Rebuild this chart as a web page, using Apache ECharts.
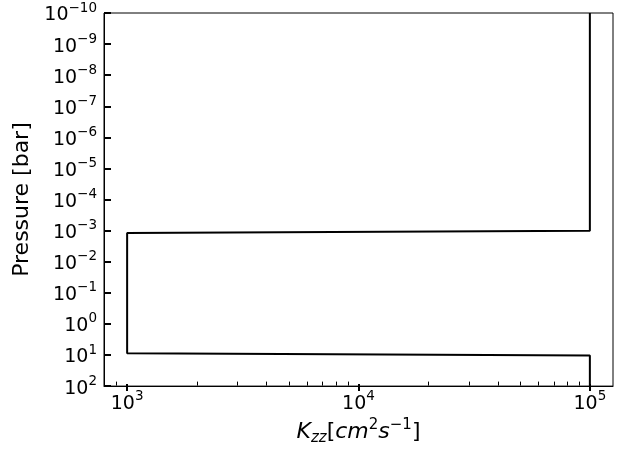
<!DOCTYPE html>
<html>
<head>
<meta charset="utf-8">
<script src="https://cdn.jsdelivr.net/npm/echarts@6/dist/echarts.min.js"></script>
<style>
  html, body { margin: 0; padding: 0; background: #fff; }
  #chart { width: 628px; height: 451px; }
</style>
</head>
<body>
<div id="chart"></div>
<script>
// Kzz profile (cm^2 s^-1) against pressure (bar)
var kzz = [1e5, 1e5, 1e3, 1e3, 1e5, 1e5];
var pressure = [1e-10, 1e-3, 1.18e-3, 8.7, 10.4, 1e2];

// tick positions (decades) and minor ticks
var xMajorExp = [3, 4, 5];
var xMinor = [800, 900, 2000, 3000, 4000, 5000, 6000, 7000, 8000, 9000,
  20000, 30000, 40000, 50000, 60000, 70000, 80000, 90000];
var yExpMin = -10, yExpMax = 2;

var font = 'DejaVu Sans';
var gridLeft = 104, gridRight = 15, gridTop = 13, gridBottom = 60;
var plotW = 628 - gridLeft - gridRight;

function powLabel(v) {
  var e = Math.round(v);
  var s = e < 0 ? '\u2212' + (-e) : '' + e;
  return '{b|10}{e|' + s + '}';
}
var powRich = {
  b: { fontFamily: font, fontSize: 19, color: '#000', lineHeight: 24, verticalAlign: 'bottom' },
  e: { fontFamily: font, fontSize: 13.5, color: '#000', lineHeight: 14, verticalAlign: 'top' }
};

var chart = echarts.init(document.getElementById('chart'));

var xMin = Math.log10(kzz[2]) - 0.1;
var xMax = Math.log10(kzz[0]) + 0.1;
var majLo = xMajorExp[0], majHi = xMajorExp[xMajorExp.length - 1];

// second (empty) grid spanning exactly 10^3..10^5, only used to carry the major ticks
var pxPerDec = plotW / (xMax - xMin);
var grid2Left = gridLeft + (majLo - xMin) * pxPerDec;
var grid2Right = gridRight + (xMax - majHi) * pxPerDec;

var option = {
  backgroundColor: '#fff',
  animation: false,
  grid: [{
    left: gridLeft, right: gridRight, top: gridTop, bottom: gridBottom,
    show: true, borderColor: '#000', borderWidth: 1, backgroundColor: 'transparent'
  }, {
    left: grid2Left, right: grid2Right, top: gridTop, bottom: gridBottom, show: false
  }],
  xAxis: [{
    type: 'value',
    gridIndex: 0,
    position: 'bottom',
    min: xMin,
    max: xMax,
    name: '{i|K}{s|zz}{r|[}{i|cm}{p|2}{i|s}{p|\u22121}{r|]}',
    nameLocation: 'middle',
    nameGap: 26,
    nameTextStyle: {
      rich: {
        i: { fontFamily: font, fontStyle: 'italic', fontSize: 22, color: '#000', lineHeight: 28 },
        r: { fontFamily: font, fontSize: 22, color: '#000', lineHeight: 28 },
        s: { fontFamily: font, fontStyle: 'italic', fontSize: 15, color: '#000', lineHeight: 15, verticalAlign: 'bottom' },
        p: { fontFamily: font, fontSize: 15, color: '#000', lineHeight: 15, verticalAlign: 'top' }
      }
    },
    axisLine: { show: true, onZero: false, lineStyle: { color: '#000', width: 1 } },
    axisTick: { show: false },
    axisLabel: { margin: 3, customValues: xMajorExp, formatter: powLabel, rich: powRich },
    splitLine: { show: false }
  }, {
    // major ticks, on the helper grid: min is a multiple of the interval
    type: 'value',
    gridIndex: 1,
    position: 'bottom',
    min: majLo,
    max: majHi,
    interval: 1,
    axisLine: { show: false, onZero: false },
    axisTick: { show: true, inside: true, length: 7, lineStyle: { color: '#000', width: 2 } },
    axisLabel: { show: false },
    splitLine: { show: false }
  }, {
    // minor ticks
    type: 'value',
    gridIndex: 0,
    position: 'bottom',
    offset: -0.5,
    min: xMin,
    max: xMax,
    axisLine: { show: false, onZero: false },
    axisTick: { show: true, inside: true, length: 4, customValues: xMinor.map(Math.log10), lineStyle: { color: '#000', width: 1 } },
    axisLabel: { show: false },
    splitLine: { show: false }
  }],
  yAxis: [{
    type: 'value',
    gridIndex: 0,
    inverse: true,
    min: yExpMin,
    max: yExpMax,
    interval: 1,
    name: 'Pressure [bar]',
    nameLocation: 'middle',
    nameGap: 60,
    nameTextStyle: { fontFamily: font, fontSize: 22, color: '#000' },
    axisLine: { show: true, onZero: false, lineStyle: { color: '#000', width: 1 } },
    axisTick: { show: true, inside: true, length: 7, lineStyle: { color: '#000', width: 2 } },
    axisLabel: { margin: 7, formatter: powLabel, rich: powRich },
    splitLine: { show: false }
  }, {
    type: 'value',
    gridIndex: 1,
    min: 0,
    max: 1,
    show: false
  }],
  series: [{
    type: 'line',
    xAxisIndex: 0,
    yAxisIndex: 0,
    showSymbol: false,
    symbol: 'none',
    lineStyle: { color: '#000', width: 2 },
    data: kzz.map(function (k, i) { return [Math.log10(k), Math.log10(pressure[i])]; })
  }]
};

chart.setOption(option);
</script>
</body>
</html>
